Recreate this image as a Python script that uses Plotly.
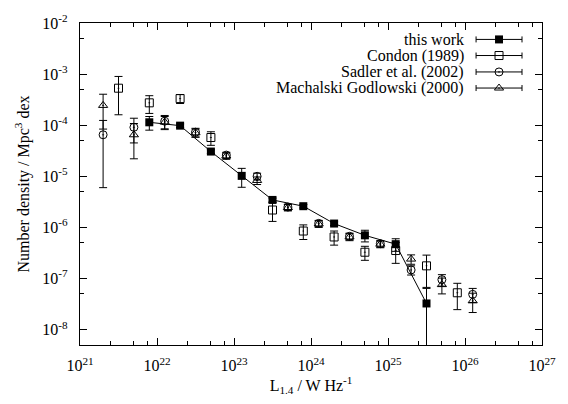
import plotly.graph_objects as go

# --- local radio luminosity function at 1.4 GHz -----------------------------
# bin centres are given as log10(L / W Hz^-1); densities in Mpc^-3 dex^-1

this_logL = [21.9, 22.3, 22.7, 23.1, 23.5, 23.9, 24.3, 24.7, 25.1, 25.5]
this_phi = [1.14e-4, 9.8e-5, 3.05e-5, 1.02e-5, 3.45e-6, 2.6e-6, 1.19e-6, 7.0e-7, 4.7e-7, 3.25e-8]
this_err = [3.4e-5, 8e-6, 2.5e-6, 4.1e-6, 3e-7, 2e-7, 1e-7, 1.8e-7, 1.3e-7, 3.15e-8]

condon_logL = [21.5, 21.9, 22.3, 22.7, 23.5, 23.9, 24.3, 24.7, 25.1, 25.5, 25.9]
condon_phi = [5.3e-4, 2.74e-4, 3.32e-4, 5.74e-5, 2.19e-6, 8.5e-7, 6.5e-7, 3.27e-7, 3.53e-7, 1.77e-7, 5.26e-8]
condon_err = [3.7e-4, 1.04e-4, 6.6e-5, 1.7e-5, 8.8e-7, 2.7e-7, 2.0e-7, 1.0e-7, 1.55e-7, 1.1e-7, 2.8e-8]

sadler_logL = [21.3, 21.7, 22.1, 22.5, 22.9, 23.3, 23.7, 24.1, 24.5, 24.9, 25.3, 25.7, 26.1]
sadler_phi = [6.5e-5, 9.1e-5, 1.2e-4, 7.3e-5, 2.6e-5, 1.0e-5, 2.5e-6, 1.2e-6, 6.7e-7, 4.8e-7, 1.47e-7, 9.5e-8, 4.9e-8]
sadler_err = [5.9e-5, 4.6e-5, 3.5e-5, 1.4e-5, 3.5e-6, 1.5e-6, 3.5e-7, 1.7e-7, 1e-7, 7e-8, 3e-8, 2.4e-8, 1.5e-8]

mach_logL = [21.3, 21.7, 22.1, 22.5, 22.9, 23.3, 23.7, 24.1, 24.5, 24.9, 25.3, 25.7, 26.1]
mach_phi = [2.44e-4, 6.5e-5, 1.15e-4, 7.1e-5, 2.5e-5, 8.3e-6, 2.45e-6, 1.17e-6, 6.5e-7, 4.7e-7, 2.4e-7, 7.6e-8, 3.66e-8]
mach_err = [1.6e-4, 4.3e-5, 3.3e-5, 1.3e-5, 3.5e-6, 1.4e-6, 3.5e-7, 1.7e-7, 1e-7, 7e-8, 5e-8, 2.6e-8, 1.5e-8]

series_names = ["this work", "Condon (1989)", "Sadler et al. (2002)", "Machalski Godlowski (2000)"]

x_decades = [21, 22, 23, 24, 25, 26, 27]
y_decades = [-8, -7, -6, -5, -4, -3, -2]

FONT = "Liberation Serif"
INK = "black"


def lum(logs):
    return [10.0 ** v for v in logs]


def errbar(err):
    return dict(type="data", array=err, symmetric=True, color=INK, thickness=1, width=4)


fig = go.Figure()

fig.add_trace(go.Scatter(
    x=lum(condon_logL), y=condon_phi, mode="markers", name=series_names[1],
    marker=dict(symbol="square-open-dot", size=8, color=INK, line=dict(width=1, color=INK)),
    error_y=errbar(condon_err), showlegend=False))

fig.add_trace(go.Scatter(
    x=lum(sadler_logL), y=sadler_phi, mode="markers", name=series_names[2],
    marker=dict(symbol="circle-open-dot", size=8, color=INK, line=dict(width=1, color=INK)),
    error_y=errbar(sadler_err), showlegend=False))

fig.add_trace(go.Scatter(
    x=lum(mach_logL), y=mach_phi, mode="markers", name=series_names[3],
    marker=dict(symbol="triangle-up-open-dot", size=8, color=INK, line=dict(width=1, color=INK)),
    error_y=errbar(mach_err), showlegend=False))

fig.add_trace(go.Scatter(
    x=lum(this_logL), y=this_phi, mode="lines+markers", name=series_names[0],
    line=dict(color=INK, width=1),
    marker=dict(symbol="square", size=8, color=INK),
    error_y=errbar(this_err), showlegend=False))

# key drawn gnuplot-style: right-aligned label followed by a sample with error bar
key_symbols = [
    dict(symbol="square", size=8, color=INK),
    dict(symbol="square-open-dot", size=8, color=INK, line=dict(width=1, color=INK)),
    dict(symbol="circle-open-dot", size=8, color=INK, line=dict(width=1, color=INK)),
    dict(symbol="triangle-up-open-dot", size=8, color=INK, line=dict(width=1, color=INK)),
]
key_rows = [0.949, 0.899, 0.848, 0.798]
key_text_x = 0.835
key_sample_x = 0.907
key_half = 0.0497

for name, sym, ky in zip(series_names, key_symbols, key_rows):
    fig.add_trace(go.Scatter(
        x=[key_sample_x], y=[ky], xaxis="x2", yaxis="y2", mode="markers",
        marker=sym, showlegend=False, hoverinfo="skip",
        error_x=dict(type="constant", value=key_half, color=INK, thickness=1, width=3)))
    fig.add_annotation(
        x=key_text_x, y=ky, xref="paper", yref="paper", text=name, showarrow=False,
        xanchor="right", yanchor="middle", font=dict(family=FONT, size=16, color=INK))

x_minor = [m * 10.0 ** d for d in x_decades[:-1] for m in (2.5, 5, 7.5)]
y_minor = [5 * 10.0 ** d for d in range(-9, -2)]

axis_common = dict(
    type="log", showline=True, linecolor=INK, linewidth=1.3, mirror="allticks",
    ticks="inside", ticklen=7, tickwidth=1, tickcolor=INK, showgrid=False, zeroline=False,
    tickfont=dict(family=FONT, size=16, color=INK),
)

fig.update_layout(
    width=568, height=404,
    margin=dict(l=80, r=15, t=15, b=59),
    paper_bgcolor="white", plot_bgcolor="white",
    font=dict(family=FONT, size=16, color=INK),
    xaxis=dict(
        **axis_common, range=[21, 27],
        tickmode="array", tickvals=[10.0 ** d for d in x_decades],
        ticktext=[f"10<sup>{d}</sup>" for d in x_decades],
        minor=dict(tickmode="array", tickvals=x_minor, ticks="inside", ticklen=4, tickcolor=INK),
        ticklabelstandoff=6,
        title=dict(text="L<sub>1.4</sub> / W Hz<sup>-1</sup>", standoff=6,
                   font=dict(family=FONT, size=16, color=INK)),
    ),
    yaxis=dict(
        **axis_common, range=[-8.30103, -2],
        tickmode="array", tickvals=[10.0 ** d for d in y_decades],
        ticktext=[f"10<sup>{d}</sup>" for d in y_decades],
        minor=dict(tickmode="array", tickvals=y_minor, ticks="inside", ticklen=4, tickcolor=INK),
        ticklabelstandoff=8,
        title=dict(text="Number density / Mpc<sup>3</sup> dex", standoff=8,
                   font=dict(family=FONT, size=16, color=INK)),
    ),
    xaxis2=dict(overlaying="x", range=[0, 1], visible=False, anchor="y2"),
    yaxis2=dict(overlaying="y", range=[0, 1], visible=False, anchor="x2"),
)

fig.write_html("out.html")
